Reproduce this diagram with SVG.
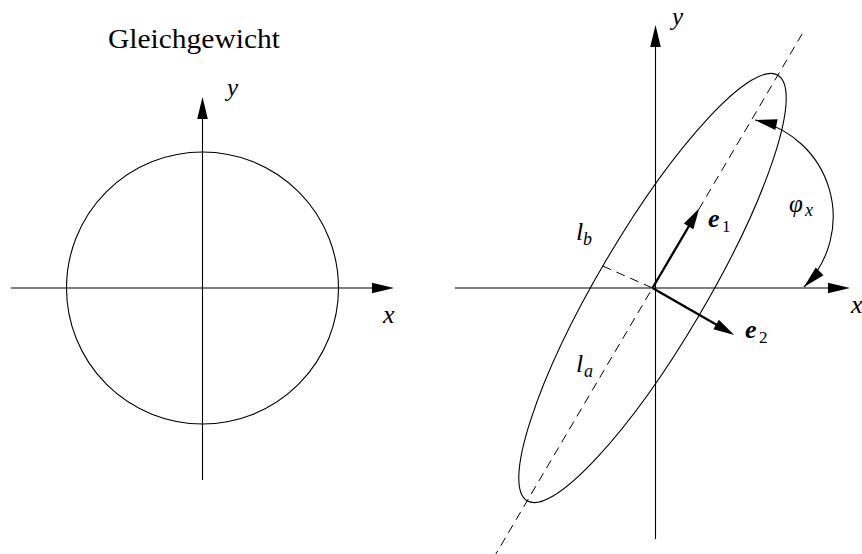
<svg xmlns="http://www.w3.org/2000/svg" width="862" height="554" viewBox="0 0 862 554">
<style>
  .ax { stroke: #000; stroke-width: 1.1; fill: none; }
  .curve { stroke: #000; stroke-width: 1.1; fill: none; }
  .dash { stroke: #000; stroke-width: 1; fill: none; stroke-dasharray: 9 6; }
  .vec { stroke: #000; stroke-width: 2.3; fill: none; }
  .head { fill: #000; stroke: none; }
  text { font-family: 'Liberation Serif', 'DejaVu Serif', serif; fill: #000; }
  .m { font-style: italic; }
  .b { font-style: italic; font-weight: bold; }
</style>
<rect width="862" height="554" fill="#fff"/>

<g id="left-title">
  <text x="108" y="47.5" font-size="27" textLength="172" lengthAdjust="spacingAndGlyphs">Gleichgewicht</text>
</g>

<g id="left-circle">
  <circle class="curve" cx="202.5" cy="288" r="136"/>
</g>

<g id="left-axes">
  <line class="ax" x1="11" y1="288" x2="374" y2="288"/>
  <polygon class="head" points="394,288 372,282.7 372,293.3"/>
  <line class="ax" x1="202.5" y1="480" x2="202.5" y2="117"/>
  <polygon class="head" points="202.5,97 197.2,119 207.8,119"/>
  <text class="m" x="227" y="96" font-size="25">y</text>
  <text class="m" x="383" y="323" font-size="26">x</text>
</g>

<g id="right-axes">
  <line class="ax" x1="455" y1="288" x2="830" y2="288"/>
  <polygon class="head" points="850,288 828,282.7 828,293.3"/>
  <line class="ax" x1="655.5" y1="539" x2="655.5" y2="45"/>
  <polygon class="head" points="655.5,25 650.2,47 660.8,47"/>
  <text class="m" x="672" y="25" font-size="25">y</text>
  <text class="m" x="851" y="313" font-size="26">x</text>
</g>

<g id="ellipse">
  <ellipse class="curve" cx="0" cy="0" rx="247" ry="54" transform="translate(652.5,288) rotate(-59.5)"/>
</g>

<g id="connectors">
  <line class="dash" x1="802.2" y1="33.8" x2="495.3" y2="555"/>
  <line class="dash" x1="602.7" y1="266" x2="652.5" y2="288"/>
  <line class="vec" x1="652.5" y1="288" x2="689" y2="226"/>
  <polygon class="head" points="699.3,208.3 693.4,229.2 683.9,223.6"/>
  <line class="vec" x1="652.5" y1="288" x2="716.5" y2="324.8"/>
  <polygon class="head" points="734.3,335 713.36,329.31 718.84,319.77"/>
  <path class="curve" d="M 755,120 A 99 99 0 0 1 804,287"/>
  <polygon class="head" points="755,120 777.7,119.3 775.3,130.1"/>
  <polygon class="head" points="804,287 815.7,267.5 823.5,275.3"/>
</g>

<g id="labels">
  <text class="b" x="708" y="227" font-size="26">e</text>
  <text x="722" y="232" font-size="17">1</text>
  <text class="b" x="745" y="338" font-size="26">e</text>
  <text x="759" y="343" font-size="17">2</text>
  <text class="m" x="576" y="240" font-size="26">l</text>
  <text class="m" x="583" y="245" font-size="18">b</text>
  <text class="m" x="576" y="372" font-size="26">l</text>
  <text class="m" x="584" y="377" font-size="18">a</text>
  <text class="m" x="789" y="212" font-size="25">φ</text>
  <text class="m" x="805" y="216" font-size="18">x</text>
</g>
</svg>
